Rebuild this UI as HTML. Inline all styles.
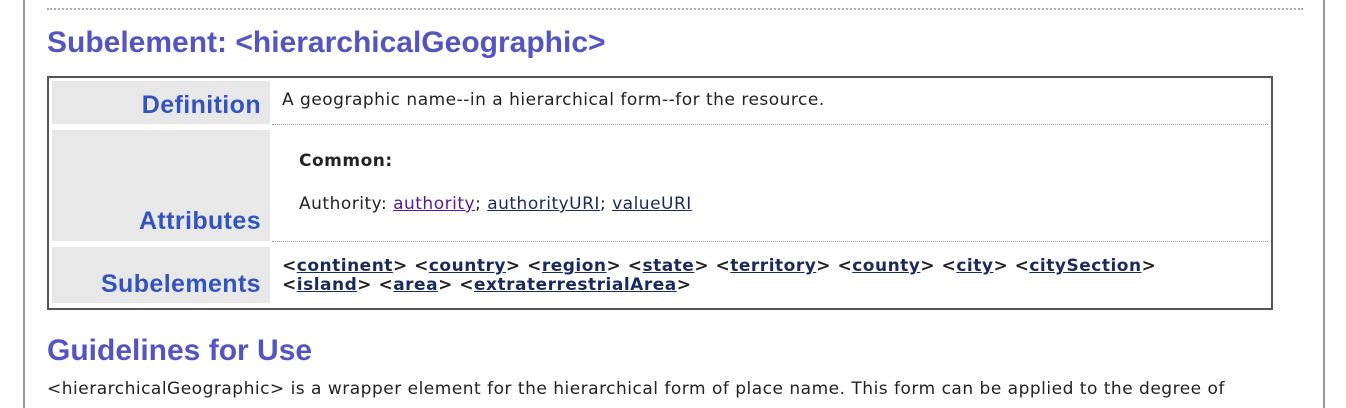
<!DOCTYPE html>
<html><head><style>
body{margin:0;width:1346px;height:408px;background:#fff;overflow:hidden;position:relative;font-family:"DejaVu Sans",sans-serif;color:#222}
.lb{position:absolute;left:23px;top:0;width:2px;height:408px;background:#999}
.rb{position:absolute;left:1323px;top:0;width:2px;height:408px;background:#999}
.dot{position:absolute;left:47px;top:8px;width:1256px;border-top:2px dotted #aaa}
h2{position:absolute;margin:0;left:47px;font:bold 30px "Liberation Sans",sans-serif;color:#5555c0;letter-spacing:0}
.tbl{position:absolute;left:47px;top:76px;width:1222px;height:230px;border:2px solid #555}
.lab{position:absolute;left:3px;width:218px;background:#e8e8e8;text-align:right;font:bold 25px "Liberation Sans",sans-serif;letter-spacing:0.4px;color:#3355bb;box-sizing:border-box;padding-right:9px}
.c{position:absolute;left:233px;font-size:17px;letter-spacing:0.5px;white-space:nowrap}
.sep{position:absolute;left:223px;width:996px;border-top:1.5px dotted #999}
a{color:#1a2a5a;text-decoration:underline}
.s a{font-weight:bold}
.s{font-weight:bold}
</style></head><body>
<div class="lb"></div><div class="rb"></div><div class="dot"></div>
<h2 style="top:26px">Subelement: &lt;hierarchicalGeographic&gt;</h2>
<div class="tbl">
 <div class="lab" style="top:3px;height:43px;line-height:48px">Definition</div>
 <div class="c" style="top:12px">A geographic name--in a hierarchical form--for the resource.</div>
 <div class="sep" style="top:46px"></div>
 <div class="lab" style="top:52px;height:111px;line-height:20px;padding-top:81px">Attributes</div>
 <div class="c" style="top:73px;left:250px;font-weight:bold">Common:</div>
 <div class="c" style="top:116px;left:250px">Authority: <a style="color:#551a8b">authority</a>; <a>authorityURI</a>; <a>valueURI</a></div>
 <div class="sep" style="top:163px"></div>
 <div class="lab" style="top:169px;height:56px;line-height:20px;padding-top:27px">Subelements</div>
 <div class="c s" style="top:179px;line-height:19px">&lt;<a>continent</a>&gt; &lt;<a>country</a>&gt; &lt;<a>region</a>&gt; &lt;<a>state</a>&gt; &lt;<a>territory</a>&gt; &lt;<a>county</a>&gt; &lt;<a>city</a>&gt; &lt;<a>citySection</a>&gt;<br>&lt;<a>island</a>&gt; &lt;<a>area</a>&gt; &lt;<a>extraterrestrialArea</a>&gt;</div>
</div>
<h2 style="top:334px">Guidelines for Use</h2>
<div class="c" style="left:47px;top:379px">&lt;hierarchicalGeographic&gt; is a wrapper element for the hierarchical form of place name. This form can be applied to the degree of</div>
</body></html>
